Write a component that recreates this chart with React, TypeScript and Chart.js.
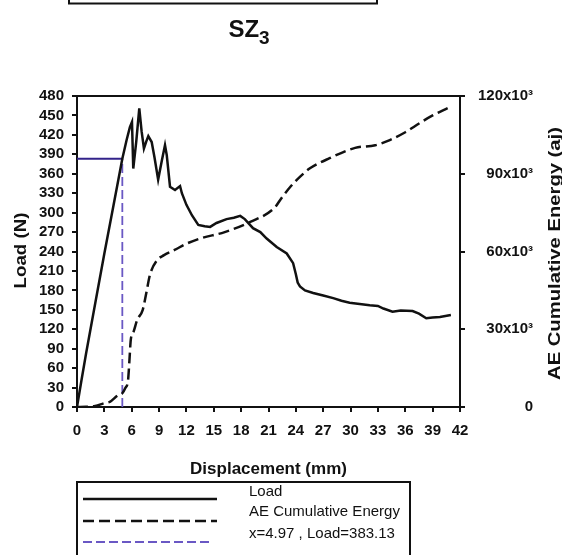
import React, { useEffect, useRef } from "react";
import { Chart, registerables } from "chart.js";

Chart.register(...registerables);

// Load curve: displacement (mm) and load (N)
const loadX = [0, 0.5, 1, 2, 3, 4, 4.97, 5.44, 5.8, 6.03, 6.17, 6.5, 6.83, 7.09, 7.34, 7.6, 7.82,
  8.19, 8.5, 8.9, 9.3, 9.65, 9.84, 10.2, 10.75, 11.3, 11.5, 12.0, 12.6, 13.3, 14.0, 14.6, 15.3,
  16.4, 17.2, 17.9, 18.4, 19.3, 20.1, 20.8, 21.9, 23.0, 23.7, 24.0, 24.2, 24.45, 25.0, 25.9, 27.0,
  28.1, 29.0, 29.9, 31.0, 32.1, 33.0, 33.6, 34.6, 35.5, 36.8, 37.5, 38.3, 39.0, 39.8, 41.0];
const loadY = [0, 42, 83, 160, 237, 311, 383.13, 412, 432, 440, 368, 410, 461, 425, 399, 410, 418,
  409, 385, 351, 380, 404, 389, 340, 335, 341, 330, 312, 296, 281, 279, 278, 284,
  290, 292, 295, 290, 276, 270, 260, 247, 237, 222, 205, 192, 186, 180, 176, 172,
  168, 164, 161, 159, 157, 156, 152, 147, 149, 148, 144, 137, 138, 139, 142];

// AE cumulative energy: displacement (mm) and energy (aj)
const aeX = [0, 1, 2, 3, 3.6, 4.5, 4.97, 5.3, 5.6, 5.75, 5.9, 6.2, 6.6, 7.2, 7.6, 8.0, 8.8, 9.5,
  10.7, 12, 13.5, 16.2, 19, 21.7, 22.3, 23.4, 24.5, 25.5, 27.7, 30.5, 32.7, 34.3, 36, 37.6, 39, 40.7];
const aeY = [0, 100, 400, 1500, 2000, 4600, 5300, 7300, 10400, 18000, 26000, 29000, 33600, 37400,
  44000, 51000, 56700, 58500, 60600, 63000, 65000, 67500, 71400, 77000, 80000, 85000, 89000, 92000,
  96000, 100000, 101000, 103000, 106000, 109600, 112500, 115400];

// Marked point on the load curve
const markX = 4.97;
const markLoad = 383.13;

// Axis ranges and tick steps
const xRange = [0, 42, 3];
const loadRange = [0, 480, 30];
const aeRange = [0, 120000, 30000];

const titleMain = "SZ";
const titleSub = "3";
const xTitle = "Displacement (mm)";
const yTitle = "Load (N)";
const y1Title = "AE Cumulative Energy (aj)";

const FONT = "'Liberation Sans', Arial, Helvetica, sans-serif";
const INK = "#111111";
const NAVY = "#33238a";
const VIOLET = "#6a58c4";

const pts = (xs: number[], ys: number[]) => xs.map((x, i) => ({ x, y: ys[i] }));

const decorPlugin = {
  id: "decor",
  afterDraw(chart: any) {
    const ctx = chart.ctx as CanvasRenderingContext2D;
    const { left, right, top, bottom } = chart.chartArea;
    ctx.save();

    // frame line along the top of the plot
    ctx.strokeStyle = INK;
    ctx.lineWidth = 2;
    ctx.beginPath();
    ctx.moveTo(left - 1, top);
    ctx.lineTo(right + 1, top);
    ctx.stroke();

    // lower edge of the panel box above
    ctx.strokeRect(69, -10, 308, 13.5);

    // panel title with subscript
    ctx.fillStyle = INK;
    ctx.textBaseline = "alphabetic";
    ctx.font = `bold 24px ${FONT}`;
    const wMain = ctx.measureText(titleMain).width;
    ctx.font = `bold 19px ${FONT}`;
    const wSub = ctx.measureText(titleSub).width;
    const tx = 249 - (wMain + wSub) / 2;
    ctx.font = `bold 24px ${FONT}`;
    ctx.textAlign = "left";
    ctx.fillText(titleMain, tx, 37);
    ctx.font = `bold 19px ${FONT}`;
    ctx.fillText(titleSub, tx + wMain, 44);

    // x axis title
    ctx.font = `bold 17px ${FONT}`;
    ctx.textAlign = "center";
    ctx.fillText(xTitle, (left + right) / 2, 474);

    // left axis title
    ctx.save();
    ctx.translate(26, (top + bottom) / 2 - 1);
    ctx.rotate(-Math.PI / 2);
    ctx.scale(1.1, 1);
    ctx.fillText(yTitle, 0, 0);
    ctx.restore();

    // right axis title
    ctx.save();
    ctx.translate(559.5, (top + bottom) / 2 + 2);
    ctx.rotate(-Math.PI / 2);
    ctx.scale(1.19, 1);
    ctx.fillText(y1Title, 0, 0);
    ctx.restore();

    // legend box
    ctx.lineWidth = 2;
    ctx.strokeStyle = INK;
    ctx.strokeRect(77, 482, 333, 90);

    const ds = chart.data.datasets;
    const rows = [
      { y: 499, text: ds[0].label, color: INK, dash: [] as number[], width: 2.5, x2: 217 },
      { y: 521, text: ds[1].label, color: INK, dash: [11, 5], width: 2.5, x2: 217 },
      { y: 542, text: ds[3].label, color: VIOLET, dash: [9, 4], width: 1.8, x2: 209 },
    ];
    ctx.font = `15px ${FONT}`;
    ctx.textAlign = "left";
    rows.forEach((r, i) => {
      ctx.save();
      ctx.strokeStyle = r.color;
      ctx.lineWidth = r.width;
      ctx.setLineDash(r.dash);
      ctx.beginPath();
      ctx.moveTo(83, r.y);
      ctx.lineTo(r.x2, r.y);
      ctx.stroke();
      ctx.restore();
      ctx.fillStyle = INK;
      ctx.fillText(r.text, 249, [495.5, 516, 537.5][i]);
    });

    ctx.restore();
  },
};

const tickFont = { family: FONT, size: 15, weight: "bold" as const };

export default function App() {
  const ref = useRef<HTMLCanvasElement | null>(null);

  useEffect(() => {
    if (!ref.current) return;
    const chart = new Chart(ref.current, {
      type: "line",
      data: {
        datasets: [
          {
            label: "Load",
            data: pts(loadX, loadY),
            yAxisID: "y",
            borderColor: INK,
            borderWidth: 2.5,
            pointRadius: 0,
            tension: 0,
          },
          {
            label: "AE Cumulative Energy",
            data: pts(aeX, aeY),
            yAxisID: "y1",
            borderColor: INK,
            borderWidth: 2.5,
            borderDash: [11, 5],
            pointRadius: 0,
            cubicInterpolationMode: "monotone",
          },
          {
            label: "level",
            data: [{ x: 0, y: markLoad }, { x: markX, y: markLoad }],
            yAxisID: "y",
            borderColor: NAVY,
            borderWidth: 2,
            pointRadius: 0,
          },
          {
            label: `x=${markX} , Load=${markLoad}`,
            data: [{ x: markX, y: 0 }, { x: markX, y: markLoad }],
            yAxisID: "y",
            borderColor: VIOLET,
            borderWidth: 1.8,
            borderDash: [9, 4],
            pointRadius: 0,
          },
        ],
      },
      options: {
        responsive: false,
        animation: false,
        layout: { padding: { top: 96, left: 0, right: 29, bottom: 0 } },
        plugins: { legend: { display: false }, tooltip: { enabled: false } },
        scales: {
          x: {
            type: "linear",
            min: xRange[0],
            max: xRange[1],
            ticks: { stepSize: xRange[2], font: tickFont, color: INK, padding: 10, maxRotation: 0, autoSkip: false },
            grid: { drawOnChartArea: false, drawTicks: true, tickLength: 5, color: INK, lineWidth: 2 },
            border: { color: INK, width: 2 },
            afterFit: (s: any) => { s.height = 148; },
          },
          y: {
            position: "left",
            min: loadRange[0],
            max: loadRange[1],
            ticks: { stepSize: loadRange[2], font: tickFont, color: INK, padding: 8, autoSkip: false },
            grid: { drawOnChartArea: false, drawTicks: true, tickLength: 5, color: INK, lineWidth: 2 },
            border: { color: INK, width: 2 },
            afterFit: (s: any) => { s.width = 77; },
          },
          y1: {
            position: "right",
            min: aeRange[0],
            max: aeRange[1],
            ticks: {
              stepSize: aeRange[2],
              font: { family: FONT, size: 15, weight: "bold" },
              color: INK,
              padding: 8,
              autoSkip: false,
              crossAlign: "far",
              callback: (v: any) => (v === 0 ? "0" : `${Number(v) / 1000}x10³`),
            },
            grid: { drawOnChartArea: false, drawTicks: true, tickLength: 5, color: INK, lineWidth: 2 },
            border: { color: INK, width: 2 },
            afterFit: (s: any) => { s.width = 73; },
          },
        },
      } as any,
      plugins: [decorPlugin],
    });
    return () => chart.destroy();
  }, []);

  return (
    <div style={{ position: "absolute", left: 0, top: 0, width: 562, height: 555, background: "#ffffff", overflow: "hidden" }}>
      <canvas ref={ref} width={562} height={555} style={{ display: "block" }} />
    </div>
  );
}
